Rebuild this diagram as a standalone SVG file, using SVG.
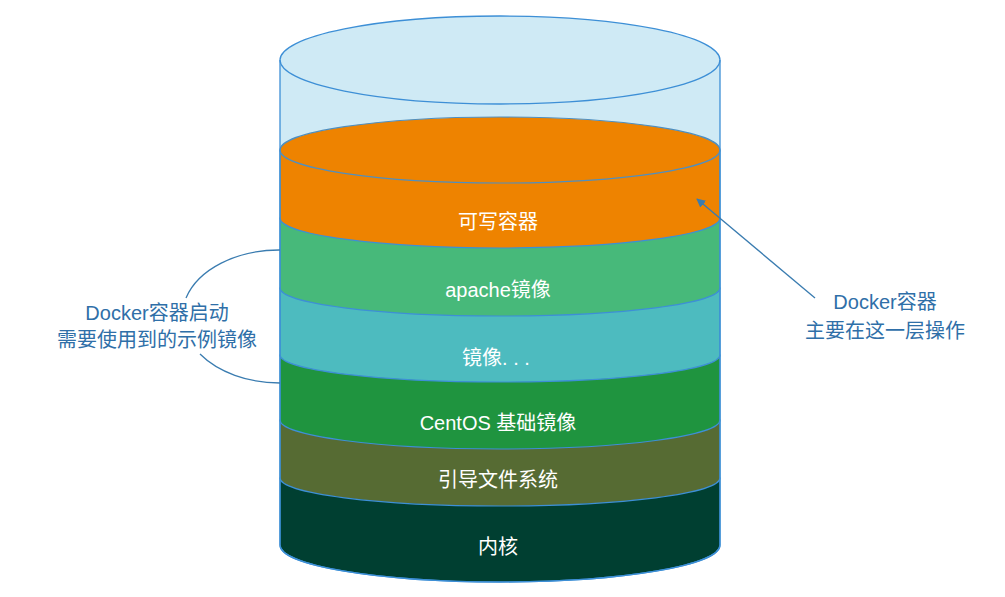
<svg xmlns="http://www.w3.org/2000/svg" width="1005" height="597" viewBox="0 0 1005 597">
<style>
.layer{stroke:#3d8fd6;stroke-width:1.2}
.lbl{font-family:"Liberation Sans","Noto Sans CJK SC",sans-serif;font-size:20px;fill:#ffffff;text-anchor:middle}
.note{font-family:"Liberation Sans","Noto Sans CJK SC",sans-serif;font-size:20px;fill:#2f6fa8;text-anchor:middle}
.conn{fill:none;stroke:#3a7cb0;stroke-width:1.3}
</style>
<defs>
<marker id="arrow" viewBox="0 0 10 10" refX="9" refY="5" markerWidth="9" markerHeight="9" orient="auto" markerUnits="userSpaceOnUse">
<path d="M0,0 L10,5 L0,10 z" fill="#3a7cb0"/>
</marker>
</defs>
<rect width="1005" height="597" fill="#ffffff"/>
<g id="glass-body">
<path d="M280,60 L280,150 L720,150 L720,60 Z" fill="#cfeaf5"/>
</g>
<g id="layer-kernel">
<path class="layer" d="M280,478 L280,545 A220,37 0 0 0 720,545 L720,478 Z" fill="#003f31"/>
<text class="lbl" x="498" y="554">内核</text>
</g>
<g id="layer-bootfs">
<path class="layer" d="M280,420 L280,478 A220,28 0 0 0 720,478 L720,420 Z" fill="#566b33"/>
<text class="lbl" x="498" y="487">引导文件系统</text>
</g>
<g id="layer-centos">
<path class="layer" d="M280,355 L280,420 A220,29 0 0 0 720,420 L720,355 Z" fill="#1f943f"/>
<text class="lbl" x="498" y="430">CentOS 基础镜像</text>
</g>
<g id="layer-image">
<path class="layer" d="M280,288 L280,355 A220,27 0 0 0 720,355 L720,288 Z" fill="#4dbbbf"/>
<text class="lbl" x="496" y="365">镜像. . .</text>
</g>
<g id="layer-apache">
<path class="layer" d="M280,218 L280,288 A220,28 0 0 0 720,288 L720,218 Z" fill="#47b97a"/>
<text class="lbl" x="498" y="297">apache镜像</text>
</g>
<g id="layer-writable">
<path class="layer" d="M280,150 L280,218 A220,30 0 0 0 720,218 L720,150 Z" fill="#ee8300"/>
<ellipse cx="500" cy="150" rx="220" ry="33" fill="#ee8300" stroke="#4f8fc0" stroke-width="1.2"/>
<text class="lbl" x="498" y="229">可写容器</text>
</g>
<g id="glass-outline">
<ellipse cx="500" cy="60" rx="220" ry="44" fill="#cfeaf5" stroke="#3d8fd6" stroke-width="1.3"/>
<path d="M280,60 L280,545 A220,37 0 0 0 720,545 L720,60" fill="none" stroke="#3d8fd6" stroke-width="1.3"/>
</g>
<g id="connectors">
<path class="conn" d="M280,250 A97,66.5 0 0 0 186,298"/>
<path class="conn" d="M200,354 A97,66.5 0 0 0 280,383"/>
<line class="conn" x1="815" y1="298" x2="697" y2="199" marker-end="url(#arrow)"/>
</g>
<g id="note-left">
<text class="note" x="157" y="320">Docker容器启动</text>
<text class="note" x="157" y="347">需要使用到的示例镜像</text>
</g>
<g id="note-right">
<text class="note" x="885" y="309">Docker容器</text>
<text class="note" x="885" y="338">主要在这一层操作</text>
</g>
</svg>
